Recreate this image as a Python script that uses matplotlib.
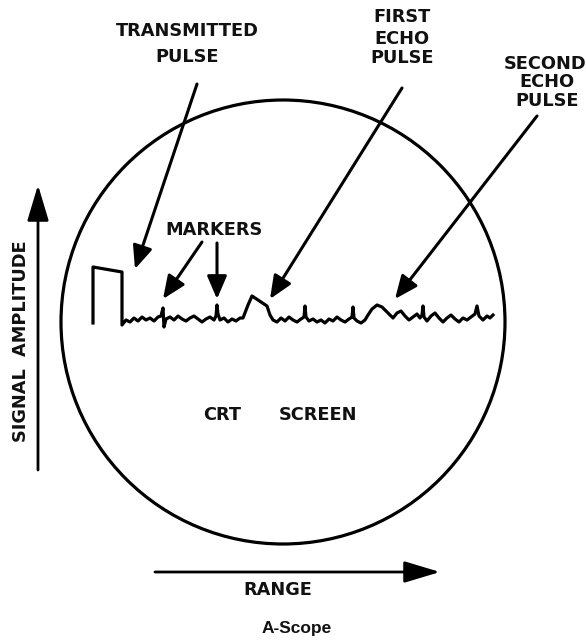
import matplotlib
matplotlib.use("Agg")
import matplotlib.pyplot as plt
from matplotlib.patches import Circle

# Trace on the CRT (pixel coordinates, y grows downward)
trace_x = [93, 93, 122, 122, 126, 130, 134, 138, 142, 146, 150, 154, 158, 161, 163, 164, 166,
           170, 174, 178, 182, 186, 190, 194, 198, 202, 206, 210, 214, 216, 217, 218, 220, 224,
           228, 232, 236, 240, 243, 248, 252, 258, 264, 267, 270, 273, 277, 281, 285, 289, 293,
           297, 301, 304, 305, 306, 309, 313, 317, 321, 325, 329, 333, 337, 341, 345, 349, 352,
           353, 354, 357, 361, 365, 368, 372, 377, 382, 386, 390, 393, 397, 401, 405, 409, 413,
           417, 420, 422, 423, 424, 427, 431, 435, 439, 443, 447, 451, 455, 459, 463, 467, 471,
           475, 477, 479, 483, 487, 490, 493]
trace_y = [323, 267, 272, 325, 320, 322, 318, 321, 317, 320, 318, 321, 317, 316, 308, 327, 319,
           317, 320, 316, 319, 321, 318, 316, 319, 322, 319, 317, 320, 316, 305, 314, 320, 318,
           322, 319, 321, 318, 318, 305, 296, 300, 304, 306, 315, 320, 322, 318, 321, 317, 320,
           322, 319, 317, 306, 317, 321, 319, 322, 320, 323, 319, 321, 317, 320, 322, 319, 317,
           307, 318, 321, 323, 320, 315, 309, 305, 307, 311, 315, 318, 313, 311, 316, 320, 317,
           314, 318, 315, 306, 317, 321, 316, 313, 318, 322, 318, 315, 319, 322, 318, 320, 317,
           314, 306, 316, 320, 316, 318, 315]

# Labels: (text, x, y)
labels = [
    ("TRANSMITTED", 187, 31), ("PULSE", 187, 57),
    ("FIRST", 402, 17), ("ECHO", 402, 39), ("PULSE", 402, 58),
    ("SECOND", 545, 64), ("ECHO", 547, 82), ("PULSE", 547, 101),
    ("MARKERS", 214, 230),
    ("CRT", 222, 415), ("SCREEN", 318, 415),
    ("RANGE", 278, 590),
]

# Pointer arrows: (start x, start y, tip x, tip y)
pointers = [
    (197, 84, 135, 269),
    (202, 242, 163, 299),
    (217, 243, 217, 299),
    (402, 88, 270, 299),
    (537, 116, 395, 299),
]

fig = plt.figure(figsize=(5.86, 6.40), dpi=100)
ax = fig.add_axes([0, 0, 1, 1])
ax.set_xlim(0, 586)
ax.set_ylim(640, 0)
ax.axis("off")

ax.add_patch(Circle((283, 322), 222, fill=False, lw=2.3, color="black"))
ax.plot(trace_x, trace_y, color="black", lw=2.3, solid_joinstyle="round")

for t, x, y in labels:
    ax.text(x, y, t, ha="center", va="center", fontsize=12.8, fontweight="bold",
            family="DejaVu Sans", color="#111111")

for sx, sy, tx, ty in pointers:
    ax.annotate("", xy=(tx, ty), xytext=(sx, sy),
                arrowprops=dict(arrowstyle="-|>,head_length=0.7,head_width=0.3",
                                mutation_scale=20, lw=2.2, color="black",
                                shrinkA=0, shrinkB=0))

# axis arrows
ax.annotate("", xy=(38, 185), xytext=(38, 470),
            arrowprops=dict(arrowstyle="-|>,head_length=1.0,head_width=0.3",
                            mutation_scale=22, lw=2.0, color="black", shrinkA=0, shrinkB=0))
ax.text(21, 341, "SIGNAL  AMPLITUDE", rotation=90, ha="center", va="center",
        fontsize=12.8, fontweight="bold", family="DejaVu Sans", color="#111111")

ax.annotate("", xy=(440, 572), xytext=(155, 572),
            arrowprops=dict(arrowstyle="-|>,head_length=1.0,head_width=0.3",
                            mutation_scale=22, lw=2.0, color="black", shrinkA=0, shrinkB=0))

ax.text(297, 629, "A-Scope", ha="center", va="center", fontsize=12.5,
        fontweight="bold", family="Liberation Sans", color="#111111")

fig.savefig("out.png", dpi=100)
